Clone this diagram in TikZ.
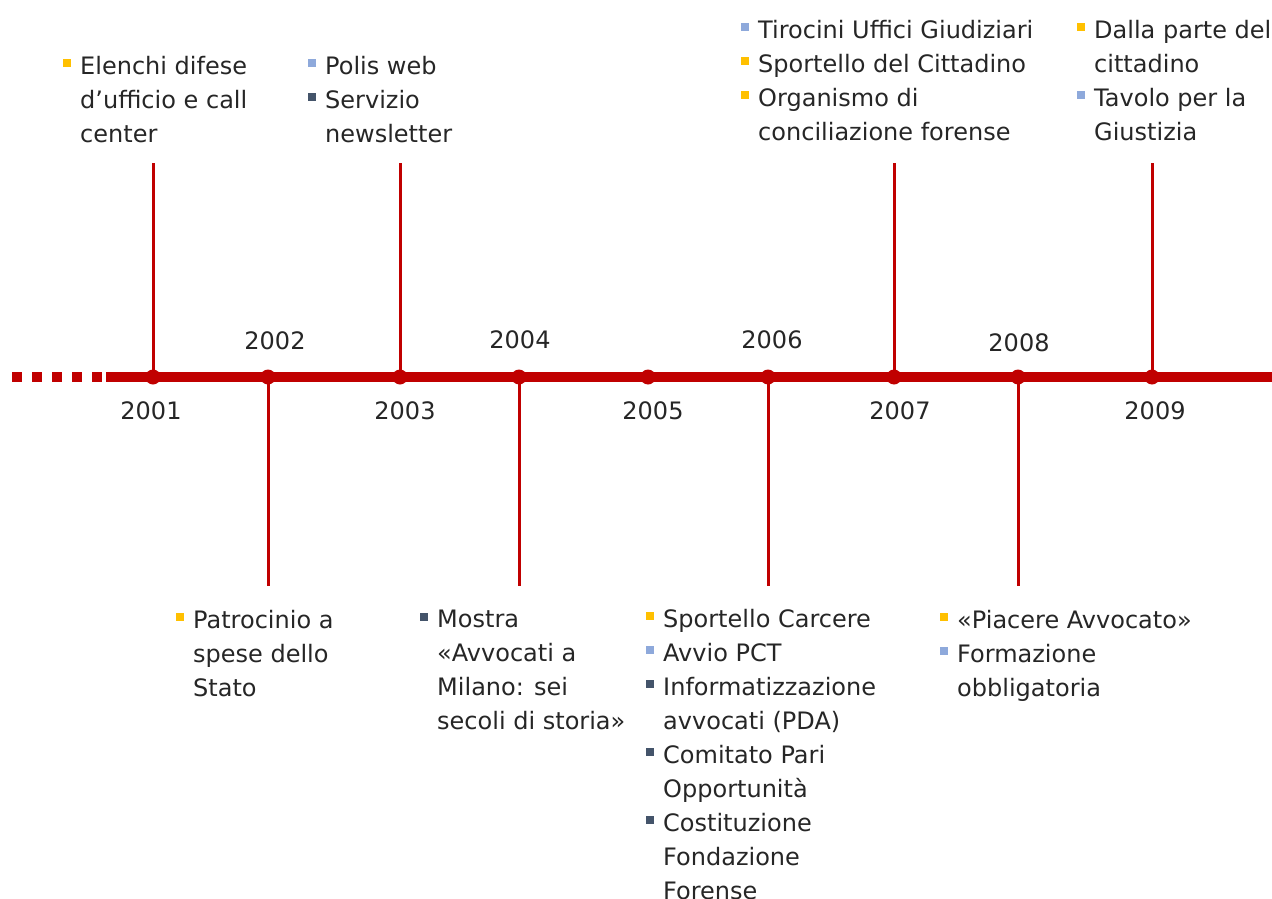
\documentclass[tikz,border=0pt]{standalone}
\usepackage{fontspec}
\setmainfont{DejaVu Sans}
\usepackage{tikz}

\definecolor{tlred}{HTML}{C00000}
\definecolor{tlgold}{HTML}{FFC000}
\definecolor{tlblue}{HTML}{8EA9DB}
\definecolor{tldark}{HTML}{44546A}
\definecolor{tltext}{HTML}{262626}

\newcommand{\sq}[1]{\makebox[17pt][l]{\textcolor{#1}{\rule[7pt]{8pt}{8pt}}}}
\newcommand{\ind}{\hspace*{17pt}}

\begin{document}
\begin{tikzpicture}[x=1pt, y=-1pt,
    axis/.style ={line width=10.5pt, tlred},
    stem/.style ={line width=3pt, tlred},
    dot/.style ={circle, fill=tlred, inner sep=0pt, minimum size=15pt},
    year/.style ={anchor=base, inner sep=0pt, text=tltext, font=\fontsize{24}{34}\selectfont},
    event/.style ={anchor=north west, align=left, inner sep=0pt, text=tltext,
                   font=\fontsize{24}{34}\selectfont, execute at begin node=\strut}]
   \useasboundingbox (0,0) rectangle (1272,899);

   % timeline
   \coordinate (s) at (12,377);
   \coordinate (m) at (106,377);
   \coordinate (e) at (1272,377);
   \draw[axis, dash pattern=on 10pt off 10pt] (s) -- (102,377);
   \draw[axis] (m) -- (e);

   \node[dot] (d2001) at (153,377) {};
   \node[dot] (d2002) at (268,377) {};
   \node[dot] (d2003) at (400,377) {};
   \node[dot] (d2004) at (519,377) {};
   \node[dot] (d2005) at (648,377) {};
   \node[dot] (d2006) at (768,377) {};
   \node[dot] (d2007) at (894,377) {};
   \node[dot] (d2008) at (1018,377) {};
   \node[dot] (d2009) at (1152,377) {};

   % stems
   \coordinate (e2001) at (153,163);
   \coordinate (e2002) at (268,586);
   \coordinate (e2003) at (400,163);
   \coordinate (e2004) at (519,586);
   \coordinate (e2006) at (768,586);
   \coordinate (e2007) at (894,163);
   \coordinate (e2008) at (1018,586);
   \coordinate (e2009) at (1152,163);
   \draw[stem] (d2001.center) -- (e2001);
   \draw[stem] (d2002.center) -- (e2002);
   \draw[stem] (d2003.center) -- (e2003);
   \draw[stem] (d2004.center) -- (e2004);
   \draw[stem] (d2006.center) -- (e2006);
   \draw[stem] (d2007.center) -- (e2007);
   \draw[stem] (d2008.center) -- (e2008);
   \draw[stem] (d2009.center) -- (e2009);

   % years
   \node[year] (y2001) at (151,419) {2001};
   \node[year] (y2002) at (275,349) {2002};
   \node[year] (y2003) at (405,419) {2003};
   \node[year] (y2004) at (520,348) {2004};
   \node[year] (y2005) at (653,419) {2005};
   \node[year] (y2006) at (772,348) {2006};
   \node[year] (y2007) at (900,419) {2007};
   \node[year] (y2008) at (1019,351) {2008};
   \node[year] (y2009) at (1155,419) {2009};

   % events above (first baseline minus strut height)
   \node[event] (t2001) at (63,56) {\sq{tlgold}Elenchi difese\\\ind d’ufficio e call\\\ind center};
   \node[event] (t2003) at (308,56) {\sq{tlblue}Polis web\\\sq{tldark}Servizio\\\ind newsletter};
   \node[event] (t2007) at (741,20) {\sq{tlblue}Tirocini Uffici Giudiziari\\\sq{tlgold}Sportello del Cittadino\\\sq{tlgold}Organismo di\\\ind conciliazione forense};
   \node[event] (t2009) at (1077,20) {\sq{tlgold}Dalla parte del\\\ind cittadino\\\sq{tlblue}Tavolo per la\\\ind Giustizia};

   % events below
   \node[event] (t2002) at (176,610) {\sq{tlgold}Patrocinio a\\\ind spese dello\\\ind Stato};
   \node[event] (t2004) at (420,610) {\sq{tldark}Mostra\\\ind «Avvocati a\\\ind Milano: sei\\\ind secoli di storia»};
   \node[event] (t2006) at (646,609) {\sq{tlgold}Sportello Carcere\\\sq{tlblue}Avvio PCT\\\sq{tldark}Informatizzazione\\\ind avvocati (PDA)\\\sq{tldark}Comitato Pari\\\ind Opportunità\\\sq{tldark}Costituzione\\\ind Fondazione\\\ind Forense};
   \node[event] (t2008) at (940,610) {\sq{tlgold}«Piacere Avvocato»\\\sq{tlblue}Formazione\\\ind obbligatoria};
 \end{tikzpicture}
\end{document}
